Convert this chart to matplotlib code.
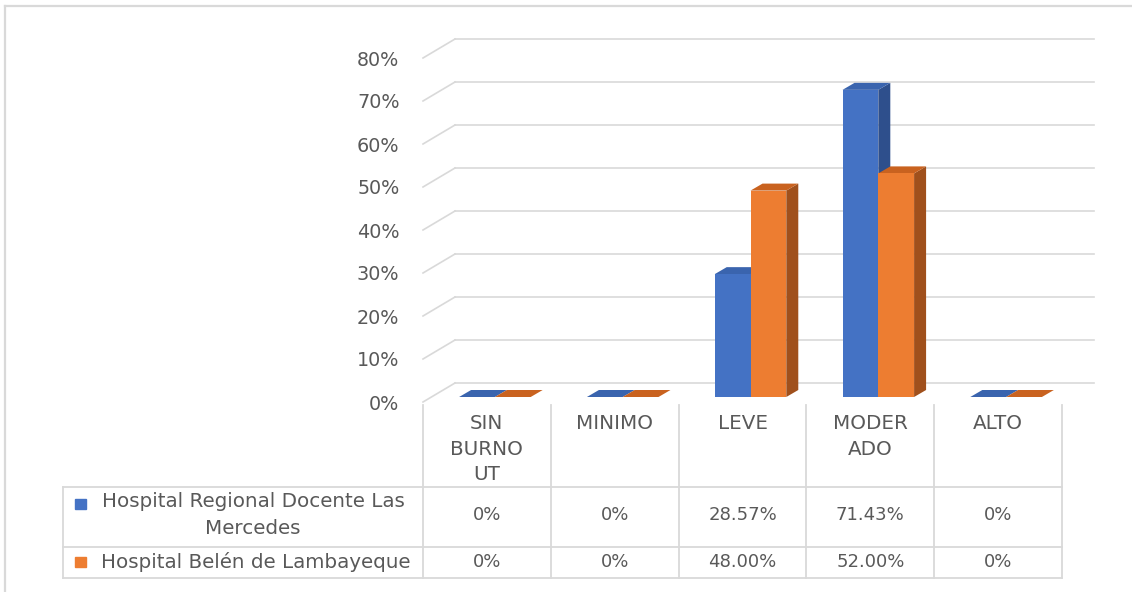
import matplotlib
matplotlib.use("Agg")
import matplotlib.pyplot as plt
from matplotlib.patches import Polygon, Rectangle
from matplotlib.transforms import blended_transform_factory

plt.rcParams['font.family'] = ['DejaVu Sans']

# data
categories = ["SIN BURNOUT", "MINIMO", "LEVE", "MODERADO", "ALTO"]
header_labels = ["SIN\nBURNO\nUT", "MINIMO", "LEVE", "MODER\nADO", "ALTO"]
series_names = ["Hospital Regional Docente Las\nMercedes", "Hospital Belén de Lambayeque"]
regional = [0, 0, 28.57, 71.43, 0]
belen = [0, 0, 48.00, 52.00, 0]
yticks = [0, 10, 20, 30, 40, 50, 60, 70, 80]

front_cols = ["#4472C4", "#ED7D31"]
top_cols = ["#3A64AE", "#C9621F"]
side_cols = ["#2E4F8C", "#A0501C"]
grid_col = "#D9D9D9"
txt_col = "#595959"

W, H = 1132, 592
fig = plt.figure(figsize=(W / 100, H / 100), dpi=100)

# overlay axes in pixel units for the frame and table
tab = fig.add_axes([0, 0, 1, 1])
tab.set_xlim(0, W)
tab.set_ylim(H, 0)
tab.axis("off")

# plot area (front plane)
left, right, top, base = 423, 1062, 58, 402
ax = fig.add_axes([left / W, (H - base) / H, (right - left) / W, (base - top) / H])
ax.set_xlim(-0.5, len(categories) - 0.5)
ax.set_ylim(0, 80)
for s in ax.spines.values():
    s.set_visible(False)
ax.set_xticks([])
ax.set_yticks(yticks)
ax.set_yticklabels([f"{v}%" for v in yticks], color=txt_col, fontsize=13.8)
ax.tick_params(axis="y", length=0, pad=17)
ax.patch.set_alpha(0)

# pixel -> data unit helpers
px_x = (right - left) / len(categories)
px_y = (base - top) / 80.0
def du(px, py):
    return px / px_x, py / px_y

# back wall gridlines with left wall diagonals
bx, by = du(32, 19)
x0, x1 = -0.5, len(categories) - 0.5
for v in yticks:
    ax.plot([x0 + bx, x1 + bx], [v + by, v + by], color=grid_col, lw=1.2,
            clip_on=False, zorder=1)
    ax.plot([x0, x0 + bx], [v, v + by], color=grid_col, lw=1.2,
            clip_on=False, zorder=1)

# 3d-ish bars
fx, fy = du(8, 5)
dx, dy = du(12, 7)
w = 0.28
for k, vals in enumerate([regional, belen]):
    for i, v in enumerate(vals):
        xl = i - w + k * w + fx
        xr = xl + w
        b = fy
        side = Polygon([(xr, b), (xr + dx, b + dy), (xr + dx, b + v + dy), (xr, b + v)],
                       closed=True, facecolor=side_cols[k], edgecolor="none",
                       clip_on=False, zorder=3 + k * 3)
        topf = Polygon([(xl, b + v), (xr, b + v), (xr + dx, b + v + dy), (xl + dx, b + v + dy)],
                       closed=True, facecolor=top_cols[k], edgecolor="none",
                       clip_on=False, zorder=4 + k * 3)
        ax.add_patch(side)
        ax.add_patch(topf)
    ax.bar([i - w / 2 + k * w + fx for i in range(len(vals))], vals, width=w,
           bottom=fy, color=front_cols[k], zorder=5 + k * 3, clip_on=False)

# frame
tab.plot([5, W], [6, 6], color=grid_col, lw=1.6)
tab.plot([5, 5], [6, H], color=grid_col, lw=1.6)

# data table
colx = blended_transform_factory(ax.transData, tab.transData)
row1_top, row2_top, tab_bot, tab_left = 487, 547, 578, 63
lc = "#D9D9D9"
for i in range(len(categories) + 1):
    tab.plot([i - 0.5, i - 0.5], [base + 3, tab_bot], color=lc, lw=1.3, transform=colx)
tab.plot([tab_left, right], [row1_top, row1_top], color=lc, lw=1.3)
tab.plot([tab_left, right], [row2_top, row2_top], color=lc, lw=1.3)
tab.plot([tab_left, right], [tab_bot, tab_bot], color=lc, lw=1.3)
tab.plot([tab_left, tab_left], [row1_top, tab_bot], color=lc, lw=1.3)

for i, lab in enumerate(header_labels):
    tab.text(i, 414, lab, transform=colx, ha="center", va="top", fontsize=14.3,
             color=txt_col, linespacing=1.45)

def fmt(v):
    return f"{v:.2f}%" if v else "0%"

row_y = [515, 562]
for k, vals in enumerate([regional, belen]):
    for i, v in enumerate(vals):
        tab.text(i, row_y[k], fmt(v), transform=colx, ha="center", va="center",
                 fontsize=13, color=txt_col)

tab.add_patch(Rectangle((75, 499), 11, 10, color=front_cols[0]))
tab.add_patch(Rectangle((75, 557), 11, 10, color=front_cols[1]))
tab.text(253, 515, series_names[0], ha="center", va="center", fontsize=14.3,
         color=txt_col, linespacing=1.5)
tab.text(256, 562, series_names[1], ha="center", va="center", fontsize=14.3,
         color=txt_col)

fig.savefig("out.png", dpi=100)
